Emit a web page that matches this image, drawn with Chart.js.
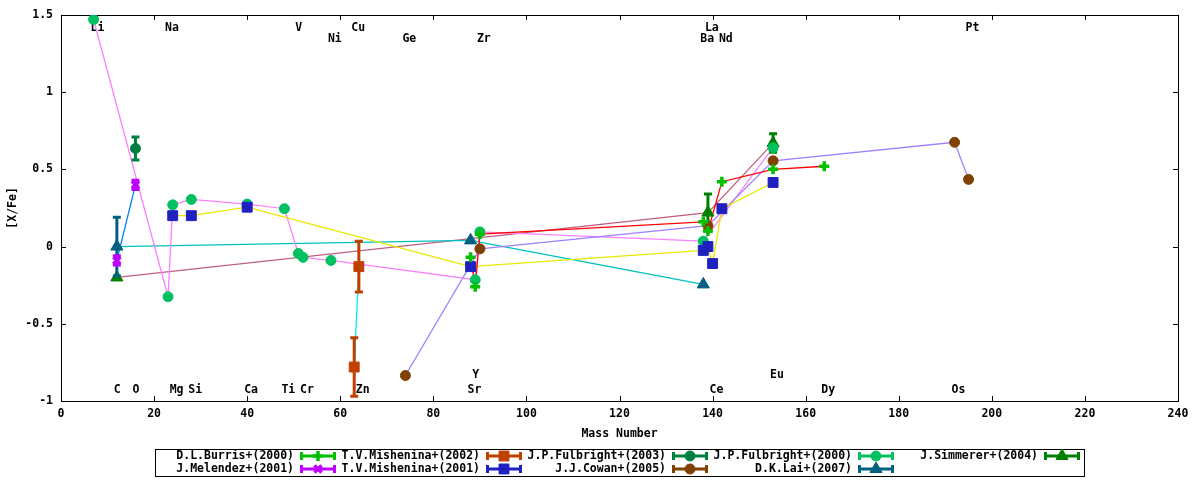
<!DOCTYPE html>
<html>
<head>
<meta charset="utf-8">
<title>[X/Fe] vs Mass Number</title>
<script src="https://cdn.jsdelivr.net/npm/chart.js@4/dist/chart.umd.min.js"></script>
<style>
    html, body { margin: 0; padding: 0; background: #fff; }
    #wrap { width: 1200px; height: 480px; position: relative; }
</style>
</head>
<body>
<div id="wrap"><canvas id="abundChart"></canvas></div>
<script>
// Datos: número másico, [X/Fe] y error de cada autor
const burrisMass = [88, 89, 90, 138, 139, 142, 153, 164];
const burrisVal  = [-0.07, -0.26, 0.08, 0.16, 0.10, 0.42, 0.50, 0.52];
const burrisErr  = [0, 0, 0, 0, 0, 0, 0, 0];

const melendezMass = [12, 16];
const melendezVal  = [-0.09, 0.40];
const melendezErr  = [0.03, 0.03];

const mish2002Mass = [63, 64];
const mish2002Val  = [-0.78, -0.13];
const mish2002Err  = [0.19, 0.165];

const mish2001Mass = [24, 28, 40, 88, 138, 139, 140, 142, 153];
const mish2001Val  = [0.20, 0.20, 0.255, -0.13, -0.025, 0.0, -0.11, 0.245, 0.415];
const mish2001Err  = [0, 0, 0, 0, 0, 0, 0, 0, 0];

const fulb2003Mass = [16];
const fulb2003Val  = [0.635];
const fulb2003Err  = [0.075];

const cowanMass = [74, 90, 139, 153, 192, 195];
const cowanVal  = [-0.835, -0.015, 0.135, 0.555, 0.675, 0.435];
const cowanErr  = [0, 0, 0, 0, 0, 0];

const fulb2000Mass = [7, 23, 24, 28, 40, 48, 51, 52, 58, 89, 90, 138, 153];
const fulb2000Val  = [1.47, -0.325, 0.27, 0.305, 0.275, 0.245, -0.045, -0.07, -0.09, -0.215, 0.095, 0.035, 0.64];
const fulb2000Err  = [0, 0, 0, 0, 0, 0, 0, 0, 0, 0, 0, 0, 0];

const laiMass = [12, 88, 138];
const laiVal  = [0.0, 0.04, -0.245];
const laiErr  = [0.19, 0, 0];

const simmererMass = [12, 139, 153];
const simmererVal  = [-0.20, 0.22, 0.67];
const simmererErr  = [0, 0.12, 0.06];

// Etiquetas de elementos (arriba y abajo del gráfico)
const topRow1Names = ['Li', 'Na', 'V', 'Cu', 'La', 'Pt'];
const topRow1Mass  = [7, 23, 51, 63, 139, 195];
const topRow2Names = ['Ni', 'Ge', 'Zr', 'Ba', 'Nd'];
const topRow2Mass  = [58, 74, 90, 138, 142];
const bottomRow1Names = ['C', 'O', 'Mg', 'Si', 'Ca', 'Ti', 'Cr', 'Zn', 'Sr', 'Ce', 'Dy', 'Os'];
const bottomRow1Mass  = [12, 16, 24, 28, 40, 48, 52, 64, 88, 140, 164, 192];
const bottomRow2Names = ['Y', 'Eu'];
const bottomRow2Mass  = [89, 153];

// Ejes
const xTickValues = [0, 20, 40, 60, 80, 100, 120, 140, 160, 180, 200, 220, 240];
const yTickValues = [-1, -0.5, 0, 0.5, 1, 1.5];
const yTickLabels = ['-1', '-0.5', '0', '0.5', '1', '1.5'];

// Estilos (estilo gnuplot)
const FONT = { family: "'DejaVu Sans Mono', monospace", size: 11.5, weight: 'bold' };
const FONT_CSS = "bold 11.5px 'DejaVu Sans Mono', monospace";

const series = [
    { name: 'D.L.Burris+(2000)',    mass: burrisMass,   val: burrisVal,   err: burrisErr,   mark: '#00c000', line: '#ff0000', style: 'cross',    r: 5 },
    { name: 'J.Melendez+(2001)',    mass: melendezMass, val: melendezVal, err: melendezErr, mark: '#c000ff', line: '#0080ff', style: 'crossRot', r: 5 },
    { name: 'T.V.Mishenina+(2002)', mass: mish2002Mass, val: mish2002Val, err: mish2002Err, mark: '#c04000', line: '#00eeee', style: 'rect',     r: 7 },
    { name: 'T.V.Mishenina+(2001)', mass: mish2001Mass, val: mish2001Val, err: mish2001Err, mark: '#2020c0', line: '#e8e800', style: 'rect',     r: 7 },
    { name: 'J.P.Fulbright+(2003)', mass: fulb2003Mass, val: fulb2003Val, err: fulb2003Err, mark: '#008040', line: null,      style: 'circle',   r: 5 },
    { name: 'J.J.Cowan+(2005)',     mass: cowanMass,    val: cowanVal,    err: cowanErr,    mark: '#804000', line: '#a080ff', style: 'circle',   r: 5 },
    { name: 'J.P.Fulbright+(2000)', mass: fulb2000Mass, val: fulb2000Val, err: fulb2000Err, mark: '#00c060', line: '#ff80ff', style: 'circle',   r: 5 },
    { name: 'D.K.Lai+(2007)',       mass: laiMass,      val: laiVal,      err: laiErr,      mark: '#006080', line: '#00c0c0', style: 'triangle', r: 7 },
    { name: 'J.Simmerer+(2004)',    mass: simmererMass, val: simmererVal, err: simmererErr, mark: '#008000', line: '#c06080', style: 'triangle', r: 7 }
];

function toPoints(s) {
    return s.mass.map(function(m, i) { return { x: m, y: s.val[i] }; });
}

// Datasets: primero líneas (debajo), luego puntos con barras de error
const datasets = [];
series.forEach(function(s) {
    if (s.line) {
        datasets.push({
            data: toPoints(s),
            showLine: true,
            borderColor: s.line,
            borderWidth: 1.3,
            pointRadius: 0,
            order: 2
        });
    }
});
series.forEach(function(s) {
    datasets.push({
        data: toPoints(s),
        errors: s.err,
        showLine: false,
        pointStyle: s.style,
        pointRadius: s.r,
        pointBackgroundColor: s.mark,
        pointBorderColor: s.mark,
        pointBorderWidth: (s.style === 'cross' || s.style === 'crossRot') ? 3.5 : 1,
        order: 1
    });
});

// Barras de error verticales con remates
const errorBarPlugin = {
    id: 'errorBars',
    beforeDatasetDraw(chart, args) {
        const ds = chart.data.datasets[args.index];
        if (!ds.errors) return;
        const ctx = chart.ctx;
        const yScale = chart.scales.y;
        ctx.save();
        ctx.strokeStyle = ds.pointBackgroundColor;
        ctx.lineWidth = 3;
        args.meta.data.forEach(function(pt, i) {
            const err = ds.errors[i];
            if (!err) return;
            const v = ds.data[i].y;
            const yTop = yScale.getPixelForValue(v + err);
            const yBot = yScale.getPixelForValue(v - err);
            ctx.beginPath();
            ctx.moveTo(pt.x, yTop); ctx.lineTo(pt.x, yBot);
            ctx.moveTo(pt.x - 4, yTop); ctx.lineTo(pt.x + 4, yTop);
            ctx.moveTo(pt.x - 4, yBot); ctx.lineTo(pt.x + 4, yBot);
            ctx.stroke();
        });
        ctx.restore();
    }
};

// Marco completo con marcas hacia dentro (como gnuplot)
const framePlugin = {
    id: 'frame',
    beforeDatasetsDraw(chart) {
        const ctx = chart.ctx;
        const a = chart.chartArea;
        const xs = chart.scales.x, ys = chart.scales.y;
        ctx.save();
        ctx.strokeStyle = '#000';
        ctx.lineWidth = 1;
        ctx.strokeRect(Math.round(a.left) + 0.5, Math.round(a.top) + 0.5,
            Math.round(a.right - a.left), Math.round(a.bottom - a.top));
        ctx.beginPath();
        xTickValues.forEach(function(v) {
            const px = Math.round(xs.getPixelForValue(v)) + 0.5;
            ctx.moveTo(px, a.bottom); ctx.lineTo(px, a.bottom - 5);
            ctx.moveTo(px, a.top); ctx.lineTo(px, a.top + 5);
        });
        yTickValues.forEach(function(v) {
            const py = Math.round(ys.getPixelForValue(v)) + 0.5;
            ctx.moveTo(a.left, py); ctx.lineTo(a.left + 5, py);
            ctx.moveTo(a.right, py); ctx.lineTo(a.right - 5, py);
        });
        ctx.stroke();

        // Símbolos de los elementos
        ctx.fillStyle = '#000';
        ctx.font = FONT_CSS;
        ctx.textAlign = 'left';
        ctx.textBaseline = 'middle';
        function row(names, masses, y) {
            names.forEach(function(n, i) {
                ctx.fillText(n, xs.getPixelForValue(masses[i]) - 3, y);
            });
        }
        row(topRow1Names, topRow1Mass, a.top + 13);
        row(topRow2Names, topRow2Mass, a.top + 24.5);
        row(bottomRow1Names, bottomRow1Mass, a.bottom - 11);
        row(bottomRow2Names, bottomRow2Mass, a.bottom - 26);
        ctx.restore();
    }
};

// Leyenda en caja, 2 filas, orden por columnas
const keyPlugin = {
    id: 'gnuKey',
    afterDraw(chart) {
        const ctx = chart.ctx;
        const boxLeft = 155, boxTop = 449, boxRight = 1084, boxBottom = 476;
        const firstSample = 300, pitch = 186, sampleW = 36;
        const rowY = [456, 469];
        ctx.save();
        ctx.strokeStyle = '#000';
        ctx.lineWidth = 1;
        ctx.strokeRect(boxLeft + 0.5, boxTop + 0.5, boxRight - boxLeft, boxBottom - boxTop);
        ctx.font = FONT_CSS;
        ctx.textAlign = 'right';
        ctx.textBaseline = 'middle';
        series.forEach(function(s, i) {
            const col = Math.floor(i / 2), rowIdx = i % 2;
            const x0 = firstSample + pitch * col;
            const y = rowY[rowIdx];
            ctx.fillStyle = '#000';
            ctx.fillText(s.name, x0 - 6, y);
            // muestra: línea horizontal con remates
            ctx.strokeStyle = s.mark;
            ctx.lineWidth = 3;
            ctx.beginPath();
            ctx.moveTo(x0, y); ctx.lineTo(x0 + sampleW, y);
            ctx.moveTo(x0 + 1.5, y - 4); ctx.lineTo(x0 + 1.5, y + 4);
            ctx.moveTo(x0 + sampleW - 1.5, y - 4); ctx.lineTo(x0 + sampleW - 1.5, y + 4);
            ctx.stroke();
            ctx.fillStyle = s.mark;
            ctx.lineWidth = (s.style === 'cross' || s.style === 'crossRot') ? 3.5 : 1;
            if (Chart.helpers && Chart.helpers.drawPoint) {
                Chart.helpers.drawPoint(ctx, { pointStyle: s.style, radius: s.r, borderWidth: ctx.lineWidth, rotation: 0 }, x0 + sampleW / 2, y);
            } else {
                ctx.beginPath(); ctx.arc(x0 + sampleW / 2, y, 4.5, 0, Math.PI * 2); ctx.fill();
            }
        });
        ctx.restore();
    }
};

const ctx = document.getElementById('abundChart').getContext('2d');

new Chart(ctx, {
    type: 'scatter',
    data: { datasets: datasets },
    options: {
        responsive: true,
        maintainAspectRatio: false,
        animation: false,
        events: [],
        layout: { padding: { left: 0, right: 22, top: 13, bottom: 39 } },
        plugins: {
            legend: { display: false },
            tooltip: { enabled: false }
        },
        scales: {
            x: {
                type: 'linear',
                min: 0,
                max: 240,
                afterBuildTicks: function(scale) {
                    scale.ticks = xTickValues.map(function(v) { return { value: v }; });
                },
                afterFit: function(scale) { scale.height = 40; },
                ticks: {
                    color: '#000', font: FONT, padding: 6, maxRotation: 0, autoSkip: false,
                    callback: function(value) { return String(value); }
                },
                grid: { display: false, drawTicks: false },
                border: { display: false },
                title: { display: true, text: 'Mass Number', color: '#000', font: FONT, padding: 0 }
            },
            y: {
                type: 'linear',
                min: -1,
                max: 1.5,
                afterBuildTicks: function(scale) {
                    scale.ticks = yTickValues.map(function(v) { return { value: v }; });
                },
                afterFit: function(scale) { scale.width = 61; },
                ticks: {
                    color: '#000', font: FONT, padding: 8, autoSkip: false,
                    callback: function(value, index) { return yTickLabels[index]; }
                },
                grid: { display: false, drawTicks: false },
                border: { display: false },
                title: { display: true, text: '[X/Fe]', color: '#000', font: FONT, padding: { top: 6, bottom: 0 } }
            }
        }
    },
    plugins: [framePlugin, errorBarPlugin, keyPlugin]
});
</script>
</body>
</html>
